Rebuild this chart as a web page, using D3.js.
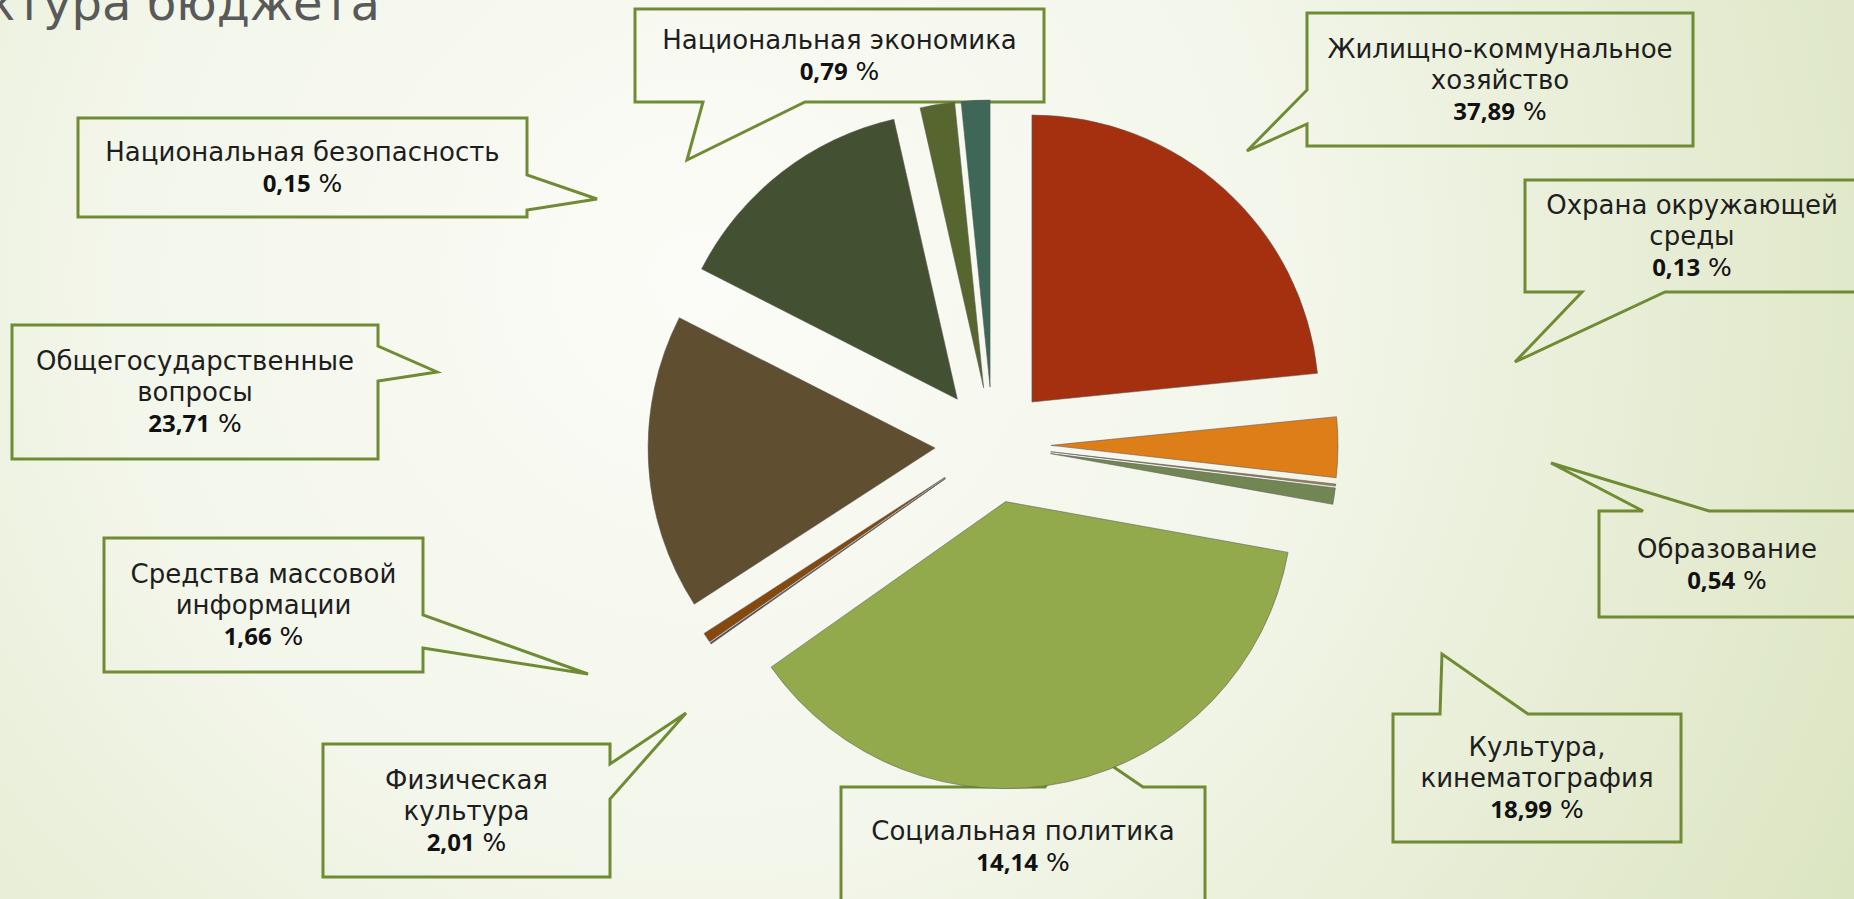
<!DOCTYPE html>
<html><head><meta charset="utf-8">
<script src="https://cdn.jsdelivr.net/npm/d3@7"></script>
<style>html,body{margin:0;padding:0;overflow:hidden;background:#fff}svg{display:block}</style>
</head><body>
<svg id="chart" width="1854" height="899"></svg>
<script>
// ---- data: slices as drawn, clockwise from 12 o'clock (percent of total)
const sliceValues = [23.39, 3.39, 0.11, 0.92, 37.36, 0.03, 0.05, 0.55, 16.64, 13.94, 1.94, 1.61];
const sliceColors = ["#A53010","#DE7E18","#9F8351","#728653","#92AA4C","#6AAC91","#631D0A","#85490E","#5F4E30","#445032","#57662E","#3F6757"];

// ---- data: callout labels
const labelNames = [
  ["Жилищно-коммунальное","хозяйство"],
  ["Охрана окружающей","среды"],
  ["Образование"],
  ["Культура,","кинематография"],
  ["Социальная политика"],
  ["Физическая","культура"],
  ["Средства массовой","информации"],
  ["Общегосударственные","вопросы"],
  ["Национальная безопасность"],
  ["Национальная экономика"]
];
const labelValues = ["37,89","0,13","0,54","18,99","14,14","2,01","1,66","23,71","0,15","0,79"];
const titleText = "Структура бюджета";

// ---- layout (positions of callout shapes, not data)
const calloutLayout = [
  {box:[1307,13,1693,146], side:"left",   base:[90,124],   tip:[1247,151]},
  {box:[1525,180,1859,292], side:"bottom", base:[1582,1665], tip:[1515,362]},
  {box:[1599,511,1856,617], side:"top",    base:[1643,1709], tip:[1551,463], tx:1727},
  {box:[1393,714,1681,842], side:"top",    base:[1440,1528], tip:[1442,654]},
  {box:[841,787,1205,905], side:"top",     base:[1045,1143], tip:[1074,740], cy:846},
  {box:[323,744,610,877], side:"right",    base:[764,799],   tip:[686,713]},
  {box:[104,538,423,672], side:"right",    base:[615,648],   tip:[588,674]},
  {box:[12,325,378,459], side:"right",     base:[346,381],   tip:[437,372]},
  {box:[78,118,527,217], side:"right",     base:[175,210],   tip:[597,199]},
  {box:[635,9,1044,102], side:"bottom",    base:[703,805],   tip:[687,160]}
];

const W = 1854, H = 899;
const svg = d3.select("#chart");
const defs = svg.append("defs");
const grad = defs.append("radialGradient").attr("id","bg")
  .attr("gradientUnits","userSpaceOnUse").attr("cx",700).attr("cy",280).attr("r",1300);
grad.append("stop").attr("offset",0).attr("stop-color","#FBFCF7");
grad.append("stop").attr("offset",0.45).attr("stop-color","#F3F6EA");
grad.append("stop").attr("offset",1).attr("stop-color","#DCE5C2");
svg.append("rect").attr("width",W).attr("height",H).attr("fill","url(#bg)");

// title (partly outside the visible area, as in the reference)
svg.append("text").attr("x",380).attr("y",20).attr("text-anchor","end")
  .attr("font-family","DejaVu Sans").attr("font-size",48).attr("fill","#595959")
  .text(titleText);

// callouts
function calloutPath(c){
  const [x0,y0,x1,y1] = c.box, [a,b] = c.base, [tx,ty] = c.tip;
  const p = d3.path();
  if (c.side === "bottom") {
    p.moveTo(x0,y0); p.lineTo(x1,y0); p.lineTo(x1,y1); p.lineTo(b,y1); p.lineTo(tx,ty); p.lineTo(a,y1); p.lineTo(x0,y1);
  } else if (c.side === "top") {
    p.moveTo(x0,y0); p.lineTo(a,y0); p.lineTo(tx,ty); p.lineTo(b,y0); p.lineTo(x1,y0); p.lineTo(x1,y1); p.lineTo(x0,y1);
  } else if (c.side === "left") {
    p.moveTo(x0,y0); p.lineTo(x1,y0); p.lineTo(x1,y1); p.lineTo(x0,y1); p.lineTo(x0,b); p.lineTo(tx,ty); p.lineTo(x0,a);
  } else {
    p.moveTo(x0,y0); p.lineTo(x1,y0); p.lineTo(x1,a); p.lineTo(tx,ty); p.lineTo(x1,b); p.lineTo(x1,y1); p.lineTo(x0,y1);
  }
  p.closePath();
  return p.toString();
}

const lineH = 31;
const callouts = svg.append("g").selectAll("g").data(calloutLayout).join("g");
callouts.append("path").attr("d", calloutPath)
  .attr("fill","none").attr("stroke","#6F8C35").attr("stroke-width",3).attr("stroke-linejoin","miter");
callouts.each(function(c,i){
  const g = d3.select(this);
  const lines = labelNames[i];
  const n = lines.length + 1;
  const cx = c.tx !== undefined ? c.tx : (c.box[0]+c.box[2])/2;
  const cy = c.cy !== undefined ? c.cy : (c.box[1]+c.box[3])/2;
  const y0 = cy - (n-1)*lineH/2 + 9;
  lines.forEach((ln,j)=>{
    g.append("text").attr("x",cx).attr("y",y0+j*lineH).attr("text-anchor","middle")
      .attr("font-family","DejaVu Sans").attr("font-size",26).attr("fill","#1E1E1E").text(ln);
  });
  const t = g.append("text").attr("x",cx).attr("y",y0+lines.length*lineH).attr("text-anchor","middle").attr("fill","#111");
  t.append("tspan").attr("font-family","Open Sans").attr("font-weight",700).attr("font-size",24).text(labelValues[i]);
  t.append("tspan").attr("font-family","DejaVu Sans").attr("font-size",25).text(" %");
});

// pie
const cxP = 993, cyP = 445, R = 287, explode = 58;
const pie = d3.pie().sort(null).value(d=>d).startAngle(0).endAngle(2*Math.PI);
const arc = d3.arc().innerRadius(0).outerRadius(R);
const arcs = pie(sliceValues);
svg.append("g").selectAll("path").data(arcs).join("path")
  .attr("d", arc)
  .attr("transform", d => {
    const m = (d.startAngle + d.endAngle)/2;
    return `translate(${cxP + Math.sin(m)*explode},${cyP - Math.cos(m)*explode})`;
  })
  .attr("fill", (d,i)=>sliceColors[i])
  .attr("stroke","rgba(90,90,90,0.55)").attr("stroke-width",1);
</script>
</body></html>
